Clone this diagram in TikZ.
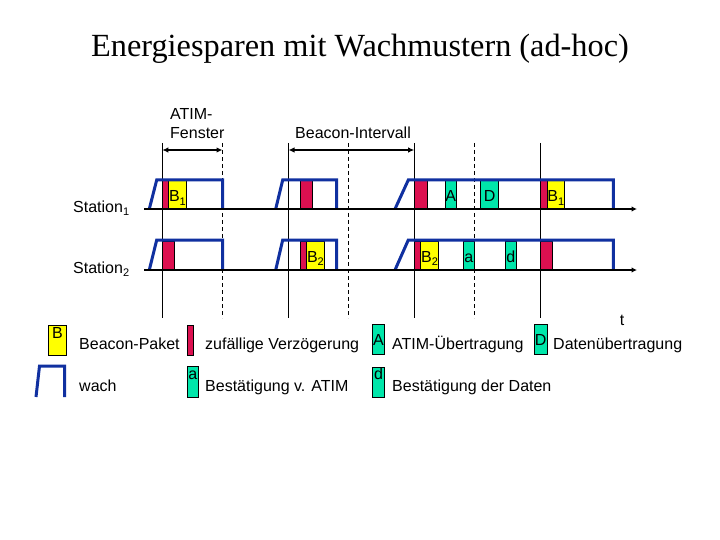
\documentclass[tikz,border=0pt]{standalone}
\usepackage{fontspec}
\setmainfont{Liberation Serif}
\setsansfont{Liberation Sans}
\usetikzlibrary{arrows.meta}
\definecolor{awakeblue}{RGB}{16,48,160}
\definecolor{delayred}{RGB}{220,16,80}
\definecolor{beaconyellow}{RGB}{255,255,0}
\definecolor{ackgreen}{RGB}{0,230,170}
\newcommand{\mysub}[1]{\raisebox{-3.5pt}{\fontsize{11}{11}\selectfont #1}}
\tikzset{
  lbl/.style={font=\sffamily\fontsize{16}{16}\selectfont, inner sep=0pt},
  blk/.style={draw=black, line width=0.5pt, inner sep=0pt, minimum height=28pt,
              text height=21pt, text depth=7pt,
              anchor=south west, font=\sffamily\fontsize{16}{16}\selectfont},
  toplbl/.style={text height=13pt, text depth=17pt},
  redblk/.style={blk, fill=delayred},
  yelblk/.style={blk, fill=beaconyellow},
  grnblk/.style={blk, fill=ackgreen},
  awake/.style={draw=awakeblue, line width=3pt, line join=miter},
  axisline/.style={draw=black, line width=1.8pt, -{Latex[length=5.5pt,width=5.5pt]}},
  solidmark/.style={draw=black, line width=0.8pt},
  dashmark/.style={draw=black, line width=0.8pt, dash pattern=on 4pt off 3pt},
  spanarrow/.style={draw=black, line width=1.8pt, {Latex[length=6pt,width=5.5pt]}-{Latex[length=6pt,width=5.5pt]}},
}
\begin{document}
\begin{tikzpicture}[x=1pt,y=-1pt]
\useasboundingbox[fill=white] (0,0) rectangle (720,540);

% title
\node[font=\rmfamily\fontsize{32.3}{32.3}\selectfont, inner sep=0pt, anchor=base] (title) at (360,57) {Energiesparen mit Wachmustern (ad-hoc)};

% top labels
\node[lbl, anchor=base west, align=left] (atimtxt) at (170,139) {ATIM-\\[3pt]Fenster};
\node[lbl, anchor=base west] (bitxt) at (295,139) {Beacon-Intervall};

% station labels
\node[lbl, anchor=base west] (st1) at (73,212) {Station\mysub{1}};
\node[lbl, anchor=base west] (st2) at (73,273) {Station\mysub{2}};

% vertical marker lines
\foreach \x/\n in {162.3/s1,288.5/s2,414.2/s3,540.3/s4}{
  \coordinate (\n top) at (\x,143);
  \coordinate (\n bot) at (\x,318);
  \draw[solidmark] (\n top) -- (\n bot);
}
\foreach \x/\n in {222.5/d1,348.5/d2,474.3/d3}{
  \coordinate (\n top) at (\x,143);
  \coordinate (\n bot) at (\x,318);
  \draw[dashmark] (\n top) -- (\n bot);
}

% span arrows
\coordinate (a1l) at (162.3,150); \coordinate (a1r) at (222.5,150);
\coordinate (a2l) at (288.5,150); \coordinate (a2r) at (414.2,150);
\draw[spanarrow] (a1l) -- (a1r);
\draw[spanarrow] (a2l) -- (a2r);

% ---- Station 1 blocks (axis y=209)
\node[redblk, minimum width=6pt] (s1r1) at (162.3,209) {};
\node[yelblk, minimum width=17.7pt] (s1b1) at (168.3,209) {B\mysub{1}};
\node[redblk, minimum width=12pt] (s1r2) at (300.3,209) {};
\node[redblk, minimum width=12.3pt] (s1r3) at (414.2,209) {};
\node[grnblk, minimum width=11.6pt] (s1A) at (444.7,209) {A};
\node[grnblk, minimum width=18pt] (s1D) at (480.3,209) {D};
\node[redblk, minimum width=6.4pt] (s1r4) at (540.3,209) {};
\node[yelblk, minimum width=17.6pt] (s1b4) at (546.7,209) {B\mysub{1}};

% ---- Station 2 blocks (axis y=270)
\node[redblk, minimum width=12pt, minimum height=29pt] (s2r1) at (162.3,270) {};
\node[redblk, minimum width=6pt, minimum height=29pt] (s2r2) at (300.3,270) {};
\node[yelblk, minimum width=17.7pt, minimum height=29pt] (s2b2) at (306.3,270) {B\mysub{2}};
\node[redblk, minimum width=6.1pt, minimum height=29pt] (s2r3) at (414.2,270) {};
\node[yelblk, minimum width=18pt, minimum height=29pt] (s2b3) at (420.3,270) {B\mysub{2}};
\node[grnblk, minimum width=11.6pt, minimum height=29pt] (s2a) at (462.7,270) {a};
\node[grnblk, minimum width=11.6pt, minimum height=29pt] (s2d) at (504.7,270) {d};
\node[redblk, minimum width=12pt, minimum height=29pt] (s2r4) at (540.3,270) {};

% awake shapes station 1
\draw[awake] (149.3,209) -- (156.7,180) -- (222.5,180) -- (222.5,209);
\draw[awake] (275.7,209) -- (282.7,180) -- (336.7,180) -- (336.7,209);
\draw[awake] (395,209) -- (408.3,180) -- (613.3,180) -- (613.3,209);
% awake shapes station 2
\draw[awake] (149.3,270) -- (156.7,240) -- (222.5,240) -- (222.5,270);
\draw[awake] (275.7,270) -- (282.7,240) -- (336.7,240) -- (336.7,270);
\draw[awake] (395,270) -- (408.3,240) -- (613.3,240) -- (613.3,270);

% axes
\coordinate (ax1s) at (144,209); \coordinate (ax1e) at (637,209);
\coordinate (ax2s) at (144,270); \coordinate (ax2e) at (637,270);
\draw[axisline] (ax1s) -- (ax1e);
\draw[axisline] (ax2s) -- (ax2e);

\node[lbl, anchor=base] (tlab) at (622,325) {t};

% ---- legend
\node[yelblk, toplbl, minimum width=17.7pt, minimum height=29pt, anchor=north west] (legB) at (48.3,325) {B};
\node[lbl, anchor=base west] (legBt) at (79,349) {Beacon-Paket};
\node[redblk, minimum width=6.3pt, minimum height=30pt, anchor=north west] (legR) at (186.7,324.5) {};
\node[lbl, anchor=base west] (legRt) at (205,349) {zuf\"allige Verz\"ogerung};
\node[grnblk, minimum width=12pt, minimum height=30pt, anchor=north west] (legA) at (372.3,323.5) {A};
\node[lbl, anchor=base west] (legAt) at (392,349) {ATIM-\"Ubertragung};
\node[grnblk, minimum width=12.4pt, minimum height=30pt, anchor=north west] (legD) at (534.3,323.5) {D};
\node[lbl, anchor=base west] (legDt) at (553,349) {Daten\"ubertragung};

\draw[awake] (36,397) -- (39.5,366) -- (64.5,366) -- (64.5,397);
\node[lbl, anchor=base west] (legWt) at (79,391) {wach};
\node[grnblk, toplbl, minimum width=11.6pt, minimum height=30.5pt, anchor=north west] (lega) at (186.7,366) {a};
\node[lbl, anchor=base west] (legat) at (205,391) {Best\"atigung v. ATIM};
\node[grnblk, toplbl, minimum width=12pt, minimum height=30pt, anchor=north west] (legd) at (372.3,366.5) {d};
\node[lbl, anchor=base west] (legdt) at (392,391) {Best\"atigung der Daten};
\end{tikzpicture}
\end{document}
